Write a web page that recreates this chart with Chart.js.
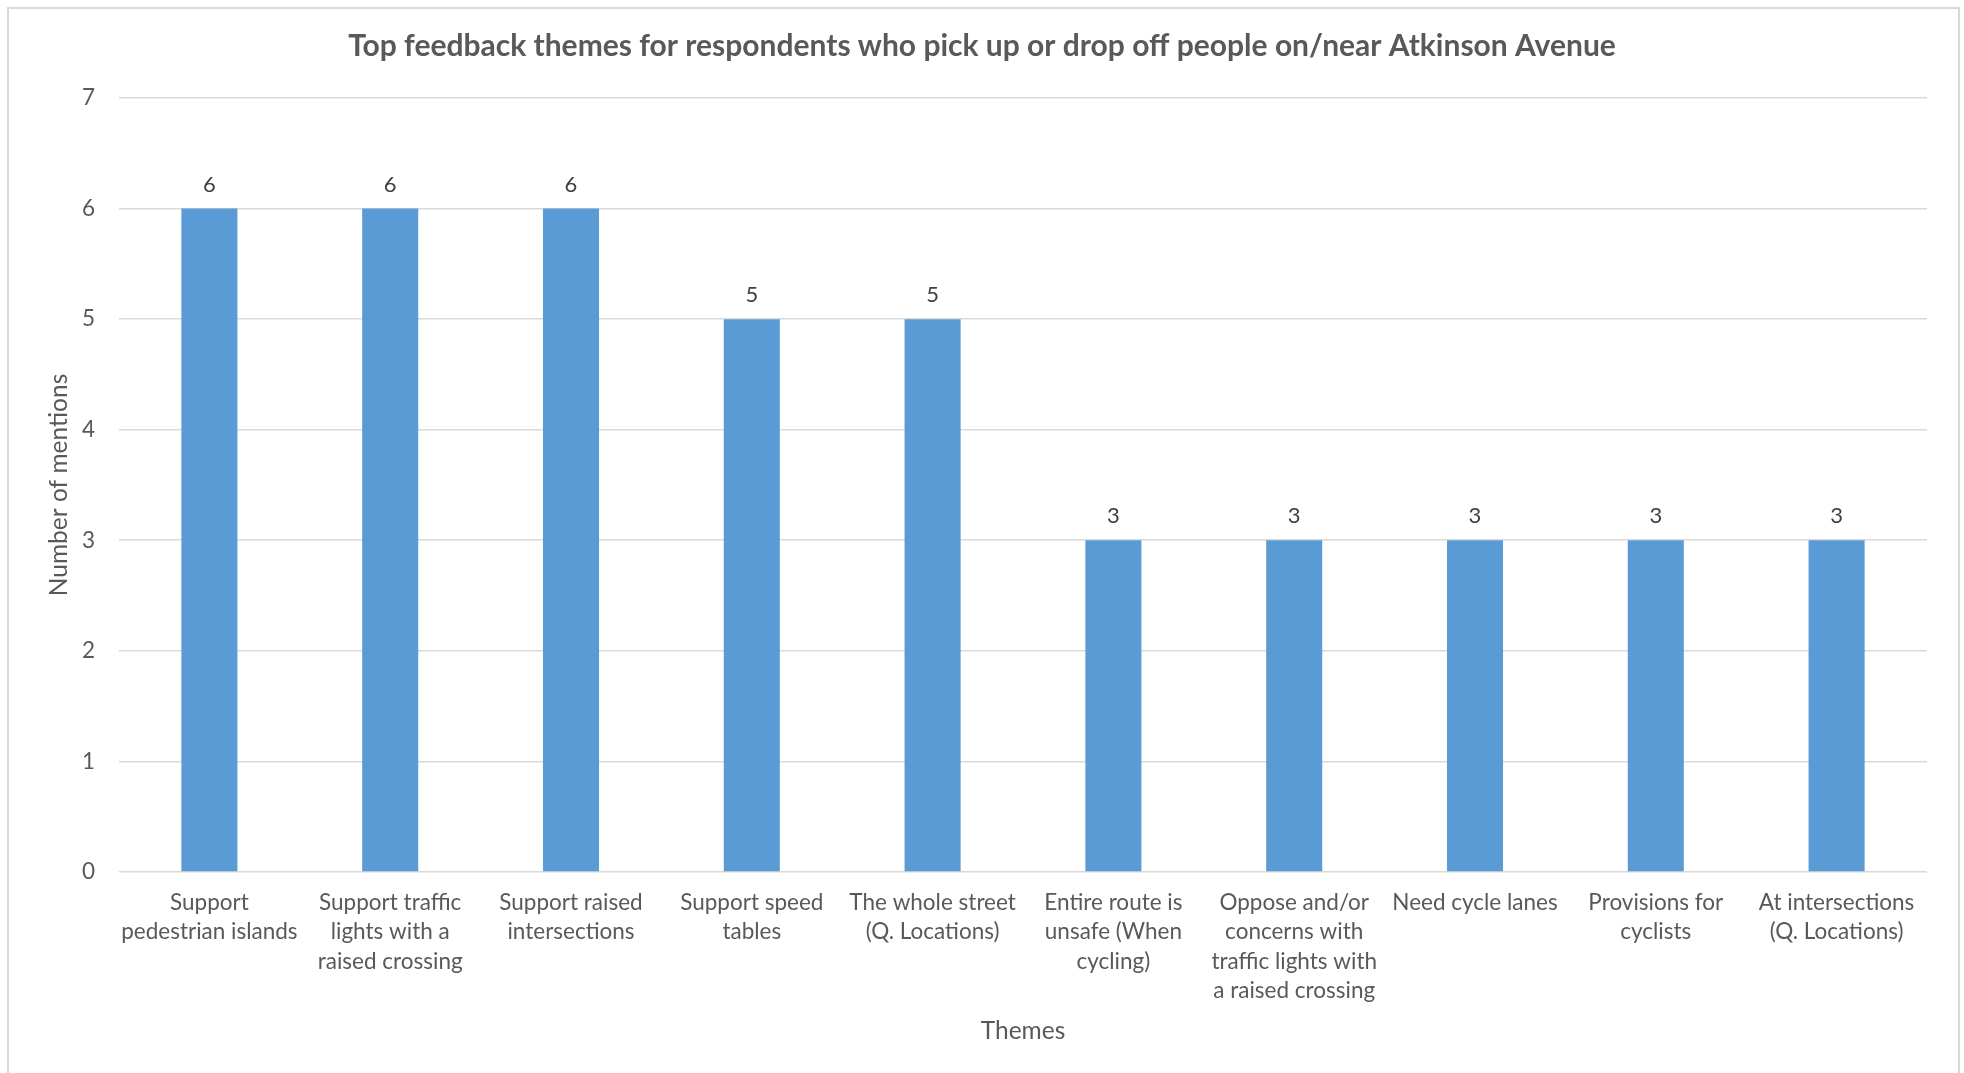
<!DOCTYPE html>
<html>
<head>
<meta charset="utf-8">
<title>Top feedback themes</title>
<script src="https://cdn.jsdelivr.net/npm/chart.js@4.4.1/dist/chart.umd.min.js"></script>
<style>
    html, body { margin: 0; padding: 0; background: #ffffff; overflow: hidden; }
    #wrap { position: absolute; left: 0; top: 0; width: 1964px; height: 1073px; }
    #frame {
        position: absolute; left: 7px; top: 7px; width: 1949px; height: 1100px;
        border: 2px solid #d9d9d9; pointer-events: none;
    }
</style>
</head>
<body>
<div id="wrap"><canvas id="themesChart"></canvas></div>
<div id="frame"></div>
<script>
// Themes and mention counts
const themes = [
    ['Support', 'pedestrian islands'],
    ['Support traffic', 'lights with a', 'raised crossing'],
    ['Support raised', 'intersections'],
    ['Support speed', 'tables'],
    ['The whole street', '(Q. Locations)'],
    ['Entire route is', 'unsafe (When', 'cycling)'],
    ['Oppose and/or', 'concerns with', 'traffic lights with', 'a raised crossing'],
    ['Need cycle lanes'],
    ['Provisions for', 'cyclists'],
    ['At intersections', '(Q. Locations)']
];
const mentions = [6, 6, 6, 5, 5, 3, 3, 3, 3, 3];
const yTicks = [0, 1, 2, 3, 4, 5, 6, 7];

const colors = {
    bar: '#5b9bd5',
    grid: '#d9d9d9',
    text: '#595959',
    value: '#404040'
};
const fontFamily = "Lato, 'Open Sans', sans-serif";

// Draws the count above each bar
const valueLabels = {
    id: 'valueLabels',
    afterDatasetsDraw(chart) {
        const ctx = chart.ctx;
        const meta = chart.getDatasetMeta(0);
        ctx.save();
        ctx.font = '22px ' + fontFamily;
        ctx.fillStyle = colors.value;
        ctx.textAlign = 'center';
        ctx.textBaseline = 'middle';
        meta.data.forEach((bar, i) => {
            ctx.fillText(String(mentions[i]), bar.x, bar.y - 24);
        });
        ctx.restore();
    }
};

new Chart(document.getElementById('themesChart'), {
    type: 'bar',
    data: {
        labels: themes,
        datasets: [{
            data: mentions,
            backgroundColor: colors.bar,
            borderWidth: 0,
            barPercentage: 0.62,
            categoryPercentage: 0.5
        }]
    },
    options: {
        responsive: true,
        maintainAspectRatio: false,
        animation: false,
        layout: { padding: 0 },
        plugins: {
            legend: { display: false },
            tooltip: { enabled: false },
            title: {
                display: true,
                text: 'Top feedback themes for respondents who pick up or drop off people on/near Atkinson Avenue',
                color: colors.text,
                font: { family: fontFamily, size: 30, weight: 'bold', lineHeight: 1.1 },
                padding: { top: 30, bottom: 35 }
            }
        },
        scales: {
            x: {
                grid: { display: false, drawTicks: false },
                border: { display: false },
                ticks: {
                    color: colors.text,
                    padding: 16,
                    maxRotation: 0,
                    autoSkip: false,
                    font: { family: fontFamily, size: 22.5, lineHeight: '29.4px' }
                },
                title: {
                    display: true,
                    text: 'Themes',
                    color: colors.text,
                    font: { family: fontFamily, size: 24.5, lineHeight: 1.2 },
                    padding: { top: 0, bottom: 27 }
                },
                afterFit(scale) { scale.height = 201; }
            },
            y: {
                min: 0,
                max: 7,
                afterBuildTicks(scale) {
                    scale.ticks = yTicks.map(v => ({ value: v }));
                },
                grid: { color: colors.grid, lineWidth: 1.6, drawTicks: false },
                border: { display: false },
                ticks: {
                    color: colors.text,
                    padding: 24,
                    font: { family: fontFamily, size: 22.5 }
                },
                title: {
                    display: true,
                    text: 'Number of mentions',
                    color: colors.text,
                    font: { family: fontFamily, size: 24.5, lineHeight: 1.2 },
                    padding: { top: 44, bottom: 0 }
                },
                afterFit(scale) { scale.width = 119; }
            },
            // empty right-hand gutter so the plot ends short of the frame
            gutter: {
                type: 'linear',
                position: 'right',
                grid: { display: false, drawTicks: false },
                border: { display: false },
                ticks: { display: false },
                afterFit(scale) { scale.width = 37; }
            }
        }
    },
    plugins: [valueLabels]
});
</script>
</body>
</html>
